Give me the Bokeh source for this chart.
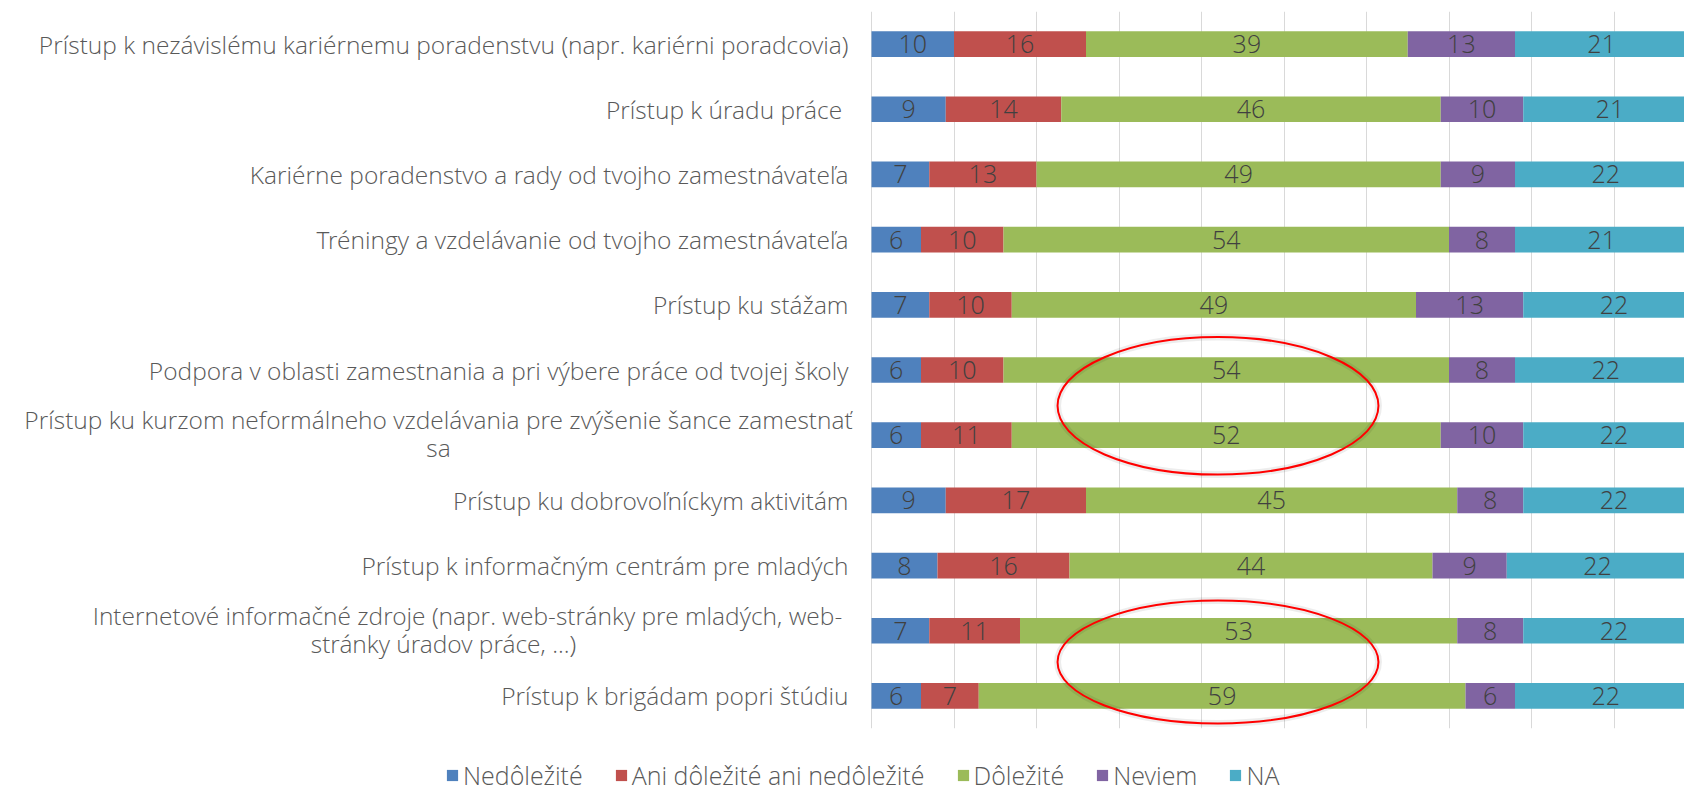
from bokeh.plotting import figure
from bokeh.layouts import column
from bokeh.models import ColumnDataSource, FactorRange, Range1d, FixedTicker, Legend, LegendItem
from bokeh.core.properties import value
from bokeh.embed import file_html
from bokeh.resources import INLINE

# ---- data (top row first) ----
categories = [
    "Prístup k nezávislému kariérnemu poradenstvu (napr. kariérni poradcovia)",
    "Prístup k úradu práce ",
    "Kariérne poradenstvo a rady od tvojho zamestnávateľa",
    "Tréningy a vzdelávanie od tvojho zamestnávateľa",
    "Prístup ku stážam",
    "Podpora v oblasti zamestnania a pri výbere práce od tvojej školy",
    "Prístup ku kurzom neformálneho vzdelávania pre zvýšenie šance zamestnať\nsa",
    "Prístup ku dobrovoľníckym aktivitám",
    "Prístup k informačným centrám pre mladých",
    "Internetové informačné zdroje (napr. web-stránky pre mladých, web-\nstránky úradov práce, ...)",
    "Prístup k brigádam popri štúdiu",
]
nedolezite = [10, 9, 7, 6, 7, 6, 6, 9, 8, 7, 6]
ani_ani = [16, 14, 13, 10, 10, 10, 11, 17, 16, 11, 7]
dolezite = [39, 46, 49, 54, 49, 54, 52, 45, 44, 53, 59]
neviem = [13, 10, 9, 8, 13, 8, 10, 8, 9, 8, 6]
na = [21, 21, 22, 21, 22, 22, 22, 22, 22, 22, 22]
series_names = ["Nedôležité", "Ani dôležité ani nedôležité", "Dôležité", "Neviem", "NA"]
grid_values = [0, 10, 20, 30, 40, 50, 60, 70, 80, 90]
highlight_rows = [6, 10]  # rows circled in red (lower row of each circled pair)

# ---- layout / styles ----
W = 1684
ZERO_PX = 871          # pixel where the value axis starts
PX_PER_UNIT = 8.25
LABEL_RIGHT_PX = 848
WRAP_CENTER_PX = {6: (438, 438), 9: (467, 443)}   # centre of each wrapped line
WRAP_OFFSETS = (0.24, -0.19)                       # line offsets (category units)
colors = ["#4F81BD", "#C0504D", "#9BBB59", "#8064A2", "#4BACC6"]
FONT = "Open Sans Light"
LABEL_COLOR = "#595959"
NUM_COLOR = "#404040"
GRID = "#D9D9D9"

series = [nedolezite, ani_ani, dolezite, neviem, na]
keys = ["s0", "s1", "s2", "s3", "s4"]
data = {"cat": categories}
for k, s in zip(keys, series):
    data[k] = s
source = ColumnDataSource(data)

p = figure(
    width=W, height=740,
    y_range=FactorRange(factors=list(reversed(categories))),
    x_range=Range1d(-ZERO_PX / PX_PER_UNIT, (W - ZERO_PX) / PX_PER_UNIT),
    output_backend="svg", toolbar_location=None,
    min_border_left=0, min_border_right=0, min_border_top=11, min_border_bottom=12,
)
p.extra_x_ranges = {"px": Range1d(0, W)}
p.outline_line_color = None
p.xaxis.visible = False
p.yaxis.visible = False
p.xgrid.ticker = FixedTicker(ticks=grid_values)
p.xgrid.grid_line_color = GRID
p.xgrid.grid_line_width = 1
p.ygrid.grid_line_color = None

p.hbar_stack(keys, y="cat", height=0.394, color=colors, source=source, line_color=None)

# category labels: single-line right-aligned, wrapped lines centred (as in the original)
sx, sy, st = [], [], []
wx, wy, wt = [], [], []
for i, cat in enumerate(categories):
    if "\n" in cat:
        lines = cat.split("\n")
        for line, cx, off in zip(lines, WRAP_CENTER_PX[i], WRAP_OFFSETS):
            wx.append(cx)
            wy.append((cat, off))
            wt.append(line)
    else:
        sx.append(LABEL_RIGHT_PX)
        sy.append(cat)
        st.append(cat)
p.text(x=sx, y=sy, text=st, x_range_name="px", text_align="right", text_baseline="middle",
       text_font=value(FONT), text_font_size="24.5px", text_color=LABEL_COLOR)
p.text(x=wx, y=wy, text=wt, x_range_name="px", text_align="center", text_baseline="middle",
       text_font=value(FONT), text_font_size="24.5px", text_color=LABEL_COLOR)

# value labels centred in each segment
lx, ly, lt = [], [], []
for i, cat in enumerate(categories):
    left = 0
    for s in series:
        v = s[i]
        lx.append(left + v / 2)
        ly.append(cat)
        lt.append(str(v))
        left += v
p.text(x=lx, y=ly, text=lt, text_align="center", text_baseline="middle",
       text_font=value(FONT), text_font_size="25px", text_color=NUM_COLOR)

# red highlight ellipses
ell = ColumnDataSource(dict(
    x=[42.0, 42.0],
    y=[(categories[highlight_rows[0]], 0.45), (categories[highlight_rows[1]], 0.52)],
    w=[38.9, 38.9], h=[2.11, 1.885],
))
p.ellipse(x="x", y="y", width="w", height="h", source=ell, fill_color=None,
          line_color="#000000", line_alpha=0.07, line_width=7)
p.ellipse(x="x", y="y", width="w", height="h", source=ell, fill_color=None,
          line_color="#FF0000", line_width=2)

# legend strip below the chart (its bars lie outside the strip's visible range)
pl = figure(width=W, height=52, x_range=Range1d(-2, -1),
            y_range=FactorRange(factors=list(reversed(categories))),
            output_backend="svg", toolbar_location=None,
            min_border_left=0, min_border_right=0, min_border_top=0, min_border_bottom=0)
pl.outline_line_color = None
pl.axis.visible = False
pl.grid.visible = False
lr = pl.hbar_stack(keys, y="cat", height=0.394, color=colors, source=source, line_color=None)
leg = Legend(items=[LegendItem(label=n, renderers=[r]) for n, r in zip(series_names, lr)],
             orientation="horizontal", location=(445, 0))
leg.border_line_color = None
leg.background_fill_alpha = 0
leg.padding = 0
leg.margin = 0
leg.spacing = 31
leg.glyph_width = 14
leg.glyph_height = 14
leg.label_standoff = 4
leg.label_text_font = FONT
leg.label_text_font_size = "25px"
leg.label_text_color = LABEL_COLOR
pl.add_layout(leg, "center")

open("out.html", "w").write(file_html(column(p, pl, spacing=0), INLINE))
